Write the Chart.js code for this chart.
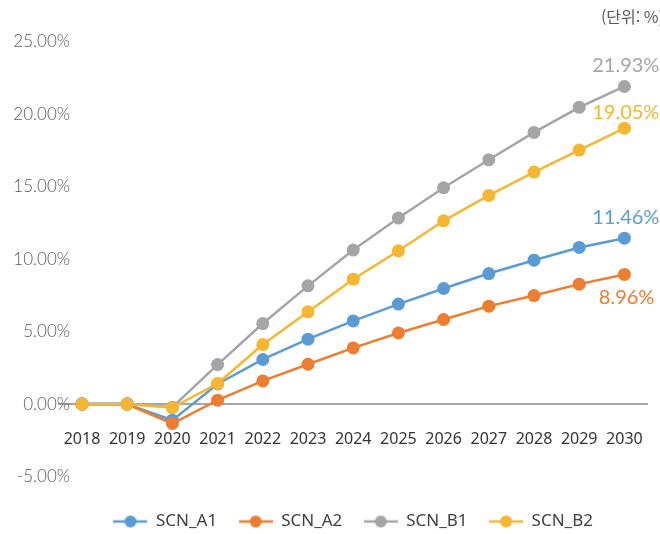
<!DOCTYPE html>
<html lang="ko">
<head>
<meta charset="utf-8">
<title>시나리오별 변화율</title>
<script src="https://cdn.jsdelivr.net/npm/chart.js@4.4.1/dist/chart.umd.min.js"></script>
<style>
  html, body { margin: 0; padding: 0; background: #ffffff; }
  #wrap { width: 660px; height: 534px; position: relative; }
</style>
</head>
<body>
<div id="wrap"><canvas id="chart"></canvas></div>
<script>
// Years on the category axis
const years = ['2018', '2019', '2020', '2021', '2022', '2023', '2024', '2025', '2026', '2027', '2028', '2029', '2030'];

// Scenario series (%)
const scnA1 = [0, 0, -1.1, 1.4, 3.09, 4.49, 5.75, 6.91, 7.99, 9.02, 9.94, 10.82, 11.46];
const scnA2 = [0, 0, -1.33, 0.28, 1.61, 2.76, 3.89, 4.92, 5.85, 6.77, 7.5, 8.29, 8.96];
const scnB1 = [0.05, 0.05, -0.2, 2.74, 5.57, 8.17, 10.64, 12.85, 14.94, 16.87, 18.76, 20.49, 21.93];
const scnB2 = [0, 0, -0.23, 1.43, 4.12, 6.38, 8.63, 10.59, 12.66, 14.41, 16.02, 17.54, 19.05];

const seriesNames = ['SCN_A1', 'SCN_A2', 'SCN_B1', 'SCN_B2'];
const seriesValues = [scnA1, scnA2, scnB1, scnB2];
const seriesColors = ['#5B9BD5', '#ED7D31', '#A5A5A5', '#F5B631'];

// Value-axis ticks
const yTicks = [-5, 0, 5, 10, 15, 20, 25];
const unitLabel = '(단위: %)';

// Placement of the value label at the last point of each series: [dx, dy]
const endLabelOffsets = [[35, -21], [30, 23], [35, -21], [35, -16]];

const Y_AXIS_WIDTH = 59.4;
const Y_LABEL_RIGHT = 70;
const yTickFont = { family: 'Lato', size: 17, weight: '300' };
const fmtPct = v => v.toFixed(2) + '%';

// widest value-axis label, so the labels can be right-aligned at a fixed x
const measureCtx = document.createElement('canvas').getContext('2d');
measureCtx.font = `${yTickFont.weight} ${yTickFont.size}px ${yTickFont.family}`;
const widestYLabel = Math.max(...yTicks.map(v => measureCtx.measureText(fmtPct(v)).width));

// Legend symbol: short line with a dot in the middle
function legendSymbol(color) {
  const c = document.createElement('canvas');
  c.width = 34; c.height = 16;
  const g = c.getContext('2d');
  g.strokeStyle = color; g.lineWidth = 2.5;
  g.beginPath(); g.moveTo(0, 8); g.lineTo(34, 8); g.stroke();
  g.fillStyle = color;
  g.beginPath(); g.arc(17, 8, 6, 0, Math.PI * 2); g.fill();
  return c;
}

const datasets = seriesNames.map((name, i) => ({
  label: name,
  data: seriesValues[i],
  borderColor: seriesColors[i],
  backgroundColor: seriesColors[i],
  borderWidth: 2.5,
  pointRadius: 6.5,
  pointHoverRadius: 6.5,
  pointBorderWidth: 0,
  tension: 0,
  order: seriesNames.length - i   // later scenarios drawn on top
}));

// Value labels at the last year + unit caption
const annotate = {
  id: 'annotate',
  afterDatasetsDraw(chart) {
    const ctx = chart.ctx;
    ctx.save();
    ctx.font = '20px Lato';
    ctx.textBaseline = 'middle';
    ctx.textAlign = 'right';
    chart.data.datasets.forEach((ds, i) => {
      const meta = chart.getDatasetMeta(i);
      const last = meta.data[meta.data.length - 1];
      const v = ds.data[ds.data.length - 1];
      const [dx, dy] = endLabelOffsets[i];
      ctx.fillStyle = ds.borderColor;
      ctx.fillText(fmtPct(v), last.x + dx, last.y + dy);
    });
    ctx.font = '16px "Noto Sans CJK KR"';
    ctx.fillStyle = '#595959';
    ctx.fillText(unitLabel, 664, 17);
    ctx.restore();
  }
};

new Chart(document.getElementById('chart'), {
  type: 'line',
  data: { labels: years, datasets },
  plugins: [annotate],
  options: {
    responsive: true,
    maintainAspectRatio: false,
    animation: false,
    events: [],
    layout: { padding: { top: 42, right: 13, bottom: -6, left: 0 } },
    scales: {
      x: {
        type: 'category',
        offset: true,
        position: { y: 0 },
        afterFit(scale) { scale.paddingLeft = 0; scale.paddingRight = 0; },
        grid: { display: false, drawTicks: false },
        border: { display: true, color: '#A6A6A6', width: 2 },
        ticks: {
          padding: 26,
          maxRotation: 0,
          autoSkip: false,
          color: '#333333',
          font: { family: 'Noto Sans', size: 16 }
        }
      },
      y: {
        min: -5,
        max: 25,
        afterBuildTicks(scale) { scale.ticks = yTicks.map(v => ({ value: v })); },
        afterFit(scale) { scale.width = Y_AXIS_WIDTH; },
        grid: { display: false, drawTicks: false },
        border: { display: false },
        ticks: {
          mirror: true,
          crossAlign: 'far',
          padding: Y_LABEL_RIGHT - Y_AXIS_WIDTH - widestYLabel,
          color: '#595959',
          font: yTickFont,
          callback: v => fmtPct(v)
        }
      }
    },
    plugins: {
      tooltip: { enabled: false },
      legend: {
        position: 'bottom',
        fullSize: false,
        title: { display: true, text: '', padding: 0, font: { size: 14.8, lineHeight: 1 } },
        labels: {
          usePointStyle: true,
          pointStyleWidth: 34,
          padding: 21.5,
          color: '#404040',
          font: { family: 'Noto Sans', size: 17 },
          generateLabels(chart) {
            return chart.data.datasets.map((ds, i) => ({
              text: ds.label,
              pointStyle: legendSymbol(ds.borderColor),
              fillStyle: ds.borderColor,
              strokeStyle: ds.borderColor,
              lineWidth: 0,
              fontColor: '#404040',
              hidden: false,
              datasetIndex: i
            }));
          }
        }
      }
    }
  }
});
</script>
</body>
</html>
